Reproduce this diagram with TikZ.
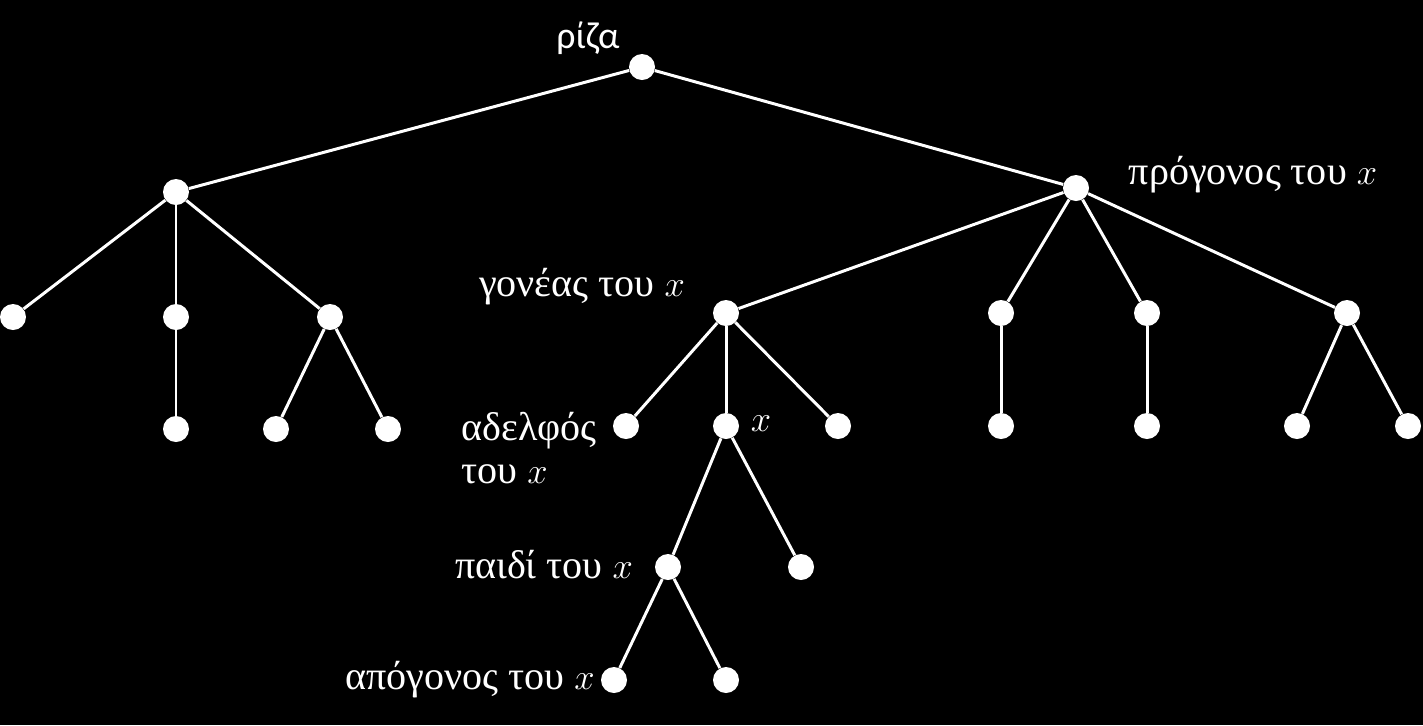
\documentclass[tikz,border=0pt]{standalone}
\usepackage{fontspec}
\setmainfont{Liberation Serif}
\newfontfamily\rootfont{Carlito}
\usetikzlibrary{positioning}

\begin{document}
\begin{tikzpicture}[x=0.02cm, y=-0.02cm,
  every node/.style={font=\fontsize{22.8}{27}\selectfont, text=white},
  vert/.style={circle, fill=white, inner sep=0pt, minimum size=0.52cm},
  edge/.style={draw=white, line width=1.7pt}]
\fill[black] (0,0) rectangle (1423,725);
\useasboundingbox (0,0) rectangle (1423,725);

% tree vertices
\node[vert] (root) at (642,67) {};
\node[vert] (a) at (176,192) {};
\node[vert] (anc) at (1076,188) {};
\node[vert] (a1) at (13,317) {};
\node[vert] (a2) at (176,317) {};
\node[vert] (a3) at (330,317) {};
\node[vert] (a21) at (176,429) {};
\node[vert] (a31) at (276,429) {};
\node[vert] (a32) at (388,429) {};
\node[vert] (par) at (726,313) {};
\node[vert] (b2) at (1001,313) {};
\node[vert] (b3) at (1147,313) {};
\node[vert] (b4) at (1347,313) {};
\node[vert] (sib) at (626,426) {};
\node[vert] (x) at (726,426) {};
\node[vert] (c3) at (838,426) {};
\node[vert] (b21) at (1001,426) {};
\node[vert] (b31) at (1147,426) {};
\node[vert] (b41) at (1297,426) {};
\node[vert] (b42) at (1408,426) {};
\node[vert] (child) at (668,567) {};
\node[vert] (x2) at (801,567) {};
\node[vert] (desc) at (614,680) {};
\node[vert] (d2) at (726,680) {};

% labels
\node[font=\fontsize{21.5}{26}\selectfont] (lroot) at (588,38) {\rootfont ρίζα};
\node (lanc) at (1253,175) {πρόγονος του $x$};
\node (lpar) at (582,287) {γονέας του $x$};
\node[anchor=west, align=left, inner sep=0pt] (lsib) at (461,448) {αδελφός\\[-3pt]του $x$};
\node (lx) at (761,424) {$x$};
\node (lchild) at (544,565) {παιδί του $x$};
\node (ldesc) at (470,680) {απόγονος του $x$};

% edges
\draw[edge] (root) -- (a);
\draw[edge] (root) -- (anc);
\draw[edge] (a) -- (a1);
\draw[edge] (a) -- (a2);
\draw[edge] (a) -- (a3);
\draw[edge] (a2) -- (a21);
\draw[edge] (a3) -- (a31);
\draw[edge] (a3) -- (a32);
\draw[edge] (anc) -- (par);
\draw[edge] (anc) -- (b2);
\draw[edge] (anc) -- (b3);
\draw[edge] (anc) -- (b4);
\draw[edge] (par) -- (sib);
\draw[edge] (par) -- (x);
\draw[edge] (par) -- (c3);
\draw[edge] (b2) -- (b21);
\draw[edge] (b3) -- (b31);
\draw[edge] (b4) -- (b41);
\draw[edge] (b4) -- (b42);
\draw[edge] (x) -- (child);
\draw[edge] (x) -- (x2);
\draw[edge] (child) -- (desc);
\draw[edge] (child) -- (d2);
\end{tikzpicture}
\end{document}
